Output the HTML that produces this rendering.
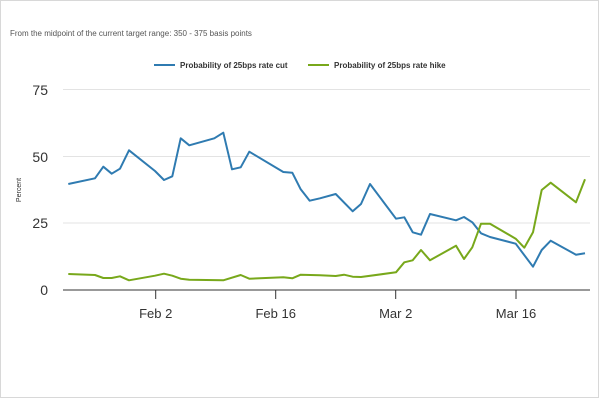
<!DOCTYPE html>
<html><head><style>body{margin:0;background:#fff}svg{display:block;font-family:"Liberation Sans",sans-serif}</style></head><body>
<svg width="600" height="400" viewBox="0 0 600 400">
<rect x="0.5" y="0.5" width="598" height="397" fill="#fff" stroke="#d8d8d8"/>
<text x="10" y="36" font-size="8" fill="#555">From the midpoint of the current target range: 350 - 375 basis points</text>
<line x1="154" y1="65" x2="175" y2="65" stroke="#2f7bb1" stroke-width="2"/>
<text x="180" y="68" font-size="8" font-weight="bold" fill="#333">Probability of 25bps rate cut</text>
<line x1="308" y1="65" x2="329" y2="65" stroke="#78a81b" stroke-width="2"/>
<text x="334" y="68" font-size="8" font-weight="bold" fill="#333">Probability of 25bps rate hike</text>
<g stroke="#e3e3e3" stroke-width="1">
<line x1="63" y1="89.5" x2="590" y2="89.5"/><line x1="63" y1="156.5" x2="590" y2="156.5"/><line x1="63" y1="223" x2="590" y2="223"/></g>
<line x1="63" y1="290" x2="590" y2="290" stroke="#333" stroke-width="1"/>
<g stroke="#333"><line x1="155.7" y1="290" x2="155.7" y2="299"/><line x1="275.7" y1="290" x2="275.7" y2="299"/><line x1="395.7" y1="290" x2="395.7" y2="299"/><line x1="516" y1="290" x2="516" y2="299"/></g>
<g font-size="14" fill="#333" text-anchor="end"><text x="48" y="95">75</text><text x="48" y="162">50</text><text x="48" y="228">25</text><text x="48" y="295">0</text></g>
<g font-size="13" fill="#333" text-anchor="middle"><text x="155.7" y="318">Feb 2</text><text x="275.7" y="318">Feb 16</text><text x="395.7" y="318">Mar 2</text><text x="516" y="318">Mar 16</text></g>
<text transform="translate(21,190) rotate(-90)" font-size="7" fill="#333" text-anchor="middle">Percent</text>
<polyline fill="none" stroke="#2f7bb1" stroke-width="2" stroke-linejoin="round" points="68.3,184 95,178.3 103.3,166.7 111.7,173.7 120,168.7 129,150.3 155,171 164,180 172.3,176.3 180.7,138.3 189.3,145.3 214.3,138.3 223.3,132.7 232,169.3 240.7,167.3 249.3,151.7 283.3,172 292.3,172.7 300.7,189.3 309.7,200.7 320,198.3 335.7,194 352.7,211.3 361,204 370,184 396,218.7 404.3,217.3 412.7,232.3 421,234.7 430,214 456,220.3 464,217 472.3,222.3 481,233.3 490,237 515.7,243.7 533,266.7 541.7,250 550.7,240.7 576,254.7 585,253.3"/>
<polyline fill="none" stroke="#78a81b" stroke-width="2" stroke-linejoin="round" points="68.3,274 95,275 103.3,278 111.7,278 120,276.3 129,280.3 155,275.7 164,273.7 172.3,275.7 180.7,278.7 189.3,279.7 223.3,280.3 240.7,275 249.3,278.7 283.3,277.3 292.3,278.3 300.7,274.7 320,275.3 335.7,276 344,274.7 352.7,276.7 361,277 396,272.3 404.3,262.3 412.7,260.3 421,250 430,260.3 456,245.7 464,259 472.3,247.3 481,223.7 490,223.7 515.7,238.7 524.3,247.7 533,232.3 541.7,190 550.7,182.7 576,202.3 585,179.3"/>
</svg>
</body></html>
